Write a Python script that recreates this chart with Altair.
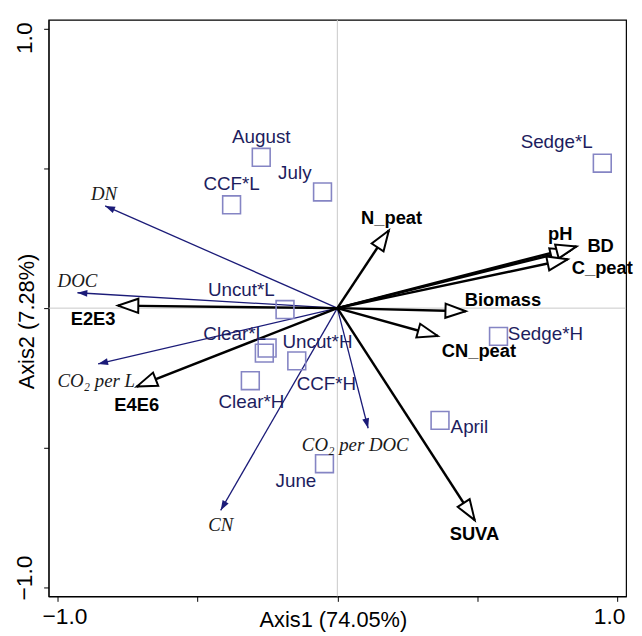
import altair as alt
import numpy as np
import pandas as pd

# ---- explanatory variables (black arrows) ----
env_names = ["N_peat", "pH", "BD", "C_peat", "Biomass", "CN_peat", "SUVA", "E2E3", "E4E6"]
env_x = [0.184, 0.834, 0.855, 0.823, 0.459, 0.359, 0.491, -0.784, -0.717]
env_y = [0.278, 0.207, 0.221, 0.175, -0.011, -0.100, -0.759, 0.009, -0.281]
env_lab_x = [0.194, 0.797, 0.941, 0.947, 0.592, 0.506, 0.490, -0.873, -0.717]
env_lab_y = [0.322, 0.265, 0.223, 0.145, 0.030, -0.155, -0.810, -0.040, -0.346]

# ---- response variables (blue arrows) ----
resp_names = ["DN", "DOC", "CO₂ per L", "CN", "CO₂ per DOC"]
resp_x = [-0.830, -0.929, -0.855, -0.417, 0.110]
resp_y = [0.366, 0.055, -0.200, -0.724, -0.430]
resp_lab_x = [-0.834, -0.929, -0.862, -0.417, 0.064]
resp_lab_y = [0.408, 0.097, -0.262, -0.777, -0.492]

# ---- samples (squares) ----
site_names = ["August", "July", "CCF*L", "Sedge*L", "Uncut*L", "Clear*L",
              "Uncut*H", "CCF*H", "Clear*H", "Sedge*H", "April", "June"]
site_x = [-0.272, -0.053, -0.378, 0.947, -0.187, -0.251, -0.261, -0.145, -0.311, 0.576, 0.367, -0.046]
site_y = [0.540, 0.416, 0.370, 0.519, -0.005, -0.143, -0.161, -0.189, -0.260, -0.101, -0.402, -0.557]
site_lab_x = [-0.272, -0.152, -0.378, 0.784, -0.343, -0.367, -0.071, -0.039, -0.307, 0.744, 0.472, -0.148]
site_lab_y = [0.611, 0.483, 0.444, 0.596, 0.065, -0.094, -0.120, -0.273, -0.337, -0.094, -0.425, -0.620]

axis_ticks = [-1.0, -0.5, 0.0, 0.5, 1.0]

SANS = "Liberation Sans"
SERIF = "Liberation Serif"
NAVY = "#1b1b78"
NAVY_TXT = "#1d1d5e"
SQ = "#8585c4"
ARROW = "M0,0L-0.7,2L0.7,2Z"


def angle_of(xs, ys):
    return [(float(np.degrees(np.arctan2(a, b))) + 360.0) % 360.0 for a, b in zip(xs, ys)]


env = pd.DataFrame({"name": env_names, "x": env_x, "y": env_y,
                    "lx": env_lab_x, "ly": env_lab_y})
env["x0"] = 0.0
env["y0"] = 0.0
env["ang"] = angle_of(env_x, env_y)

resp = pd.DataFrame({"name": resp_names, "x": resp_x, "y": resp_y,
                     "lx": resp_lab_x, "ly": resp_lab_y})
resp["x0"] = 0.0
resp["y0"] = 0.0
resp["ang"] = angle_of(resp_x, resp_y)

site = pd.DataFrame({"name": site_names, "x": site_x, "y": site_y,
                     "lx": site_lab_x, "ly": site_lab_y})

zero = pd.DataFrame({"v": [0.0]})

xs = alt.Scale(domain=[-1.032, 1.032], nice=False, zero=False)
ys = alt.Scale(domain=[-1.032, 1.032], nice=False, zero=False)

xaxis = alt.Axis(
    values=axis_ticks, grid=False,
    labelExpr="abs(datum.value) == 1 ? format(datum.value, '.1f') : ''",
    labelFont=SANS, labelFontSize=23, labelColor="black",
    labelBaseline="alphabetic", labelAlign="center", labelPadding=22,
    labelOffset={"condition": {"test": "datum.value < 0", "value": 7}, "value": -8},
    tickColor="black", tickSize=5, domainColor="black",
    title="Axis1 (74.05%)", titleFont=SANS, titleFontSize=22, titleFontWeight="normal",
    titleColor="black", titleX=287, titleY=30, titleBaseline="alphabetic", titleAlign="center",
)
yaxis = alt.Axis(
    values=axis_ticks, grid=False,
    labelExpr="abs(datum.value) == 1 ? format(datum.value, '.1f') : ''",
    labelFont=SANS, labelFontSize=23, labelColor="black", labelAngle=270,
    labelBaseline="alphabetic", labelAlign="center", labelPadding=12,
    labelOffset={"condition": {"test": "datum.value > 0", "value": 9}, "value": -10},
    tickColor="black", tickSize=5, domainColor="black",
    title="Axis2 (7.28%)", titleFont=SANS, titleFontSize=22, titleFontWeight="normal",
    titleColor="black", titleAngle=270, titleX=-15, titleY=304,
    titleBaseline="alphabetic", titleAlign="center",
)


def X(f):
    return alt.X(f, type="quantitative", scale=xs, axis=xaxis)


def Y(f):
    return alt.Y(f, type="quantitative", scale=ys, axis=yaxis)


vline = alt.Chart(zero).mark_rule(color="#c8c8c8", strokeWidth=1).encode(x=X("v"))
hline = alt.Chart(zero).mark_rule(color="#c8c8c8", strokeWidth=1).encode(y=Y("v"))

resp_lines = alt.Chart(resp).mark_rule(color=NAVY, strokeWidth=1.3).encode(
    x=X("x0"), y=Y("y0"), x2=alt.X2("x"), y2=alt.Y2("y"))
resp_heads = alt.Chart(resp).mark_point(
    shape=ARROW, size=100, filled=True, fill=NAVY, strokeWidth=0, opacity=1
).encode(x=X("x"), y=Y("y"), angle=alt.Angle("ang:Q", scale=None))

env_lines = alt.Chart(env).mark_rule(color="black", strokeWidth=2.5).encode(
    x=X("x0"), y=Y("y0"), x2=alt.X2("x"), y2=alt.Y2("y"))
env_heads = alt.Chart(env).mark_point(
    shape=ARROW, size=420, filled=True, fill="white", stroke="black",
    strokeWidth=2, opacity=1
).encode(x=X("x"), y=Y("y"), angle=alt.Angle("ang:Q", scale=None))

squares = alt.Chart(site).mark_point(
    shape="square", size=324, filled=False, stroke=SQ, strokeWidth=1.6, opacity=1
).encode(x=X("x"), y=Y("y"))

site_text = alt.Chart(site).mark_text(
    font=SANS, fontSize=19, color=NAVY_TXT, align="center", baseline="middle"
).encode(x=X("lx"), y=Y("ly"), text="name:N")

resp_text = alt.Chart(resp).mark_text(
    font=SERIF, fontSize=19, fontStyle="italic", color="#1a1a1a",
    align="center", baseline="middle"
).encode(x=X("lx"), y=Y("ly"), text="name:N")

env_text = alt.Chart(env).mark_text(
    font=SANS, fontSize=18.5, fontWeight="bold", color="black",
    align="center", baseline="middle"
).encode(x=X("lx"), y=Y("ly"), text="name:N")

chart = alt.layer(
    vline, hline, resp_lines, resp_heads, env_lines, env_heads,
    squares, site_text, resp_text, env_text
).properties(
    width=583, height=582,
    autosize=alt.AutoSizeParams(type="none"),
    padding={"left": 41, "top": 9, "right": 8, "bottom": 36},
    background="white",
).configure_view(stroke="black", strokeWidth=1.2)

chart.save("out.html", embed_options={"renderer": "svg", "actions": False})
